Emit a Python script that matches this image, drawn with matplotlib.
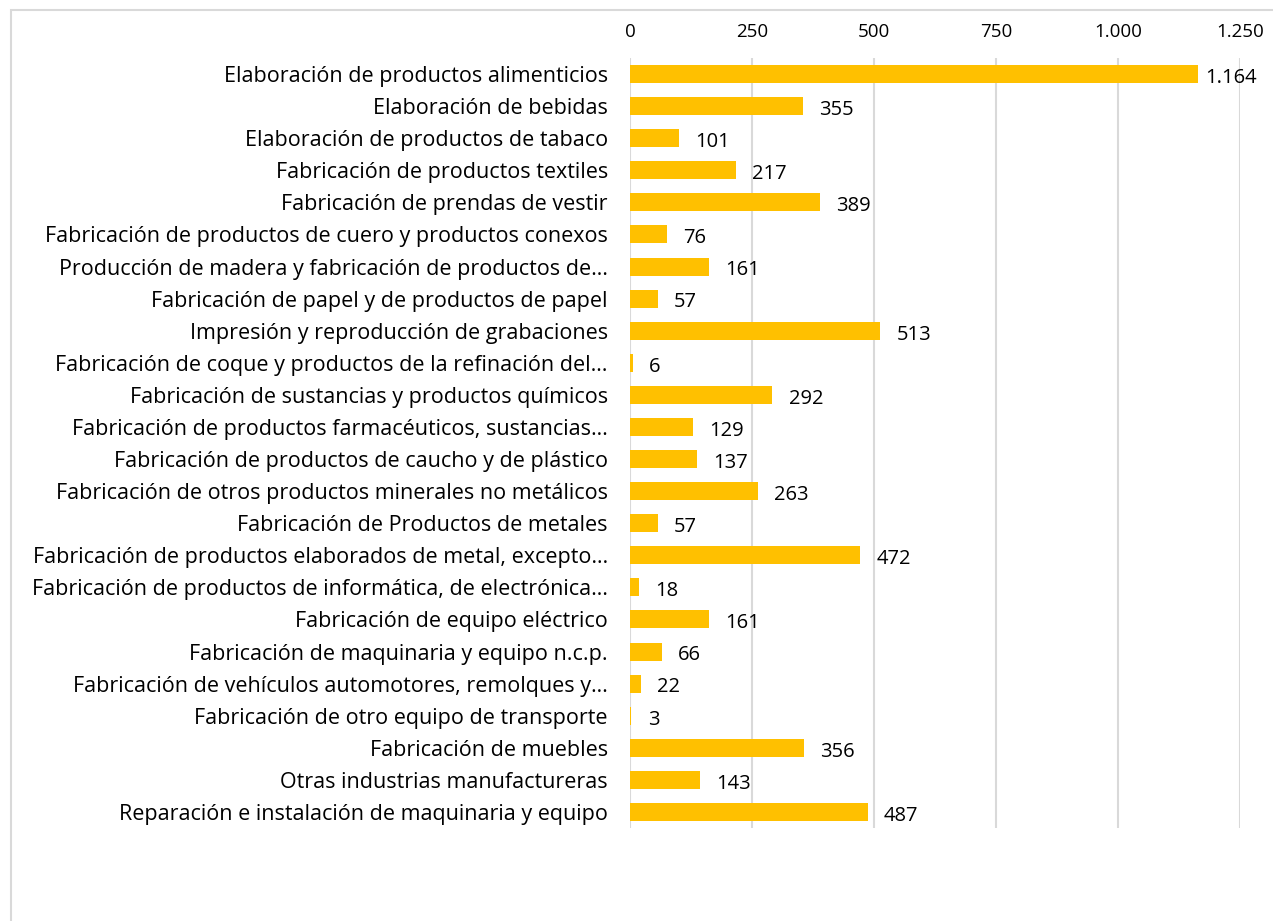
import matplotlib.pyplot as plt
from matplotlib.patches import Rectangle
from matplotlib.ticker import FuncFormatter

categorias = [
    "Elaboración de productos alimenticios",
    "Elaboración de bebidas",
    "Elaboración de productos de tabaco",
    "Fabricación de productos textiles",
    "Fabricación de prendas de vestir",
    "Fabricación de productos de cuero y productos conexos",
    "Producción de madera y fabricación de productos de…",
    "Fabricación de papel y de productos de papel",
    "Impresión y reproducción de grabaciones",
    "Fabricación de coque y productos de la refinación del…",
    "Fabricación de sustancias y productos químicos",
    "Fabricación de productos farmacéuticos, sustancias…",
    "Fabricación de productos de caucho y de plástico",
    "Fabricación de otros productos minerales no metálicos",
    "Fabricación de Productos de metales",
    "Fabricación de productos elaborados de metal, excepto…",
    "Fabricación de productos de informática, de electrónica…",
    "Fabricación de equipo eléctrico",
    "Fabricación de maquinaria y equipo n.c.p.",
    "Fabricación de vehículos automotores, remolques y…",
    "Fabricación de otro equipo de transporte",
    "Fabricación de muebles",
    "Otras industrias manufactureras",
    "Reparación e instalación de maquinaria y equipo",
]
valores = [1164, 355, 101, 217, 389, 76, 161, 57, 513, 6, 292, 129, 137,
           263, 57, 472, 18, 161, 66, 22, 3, 356, 143, 487]
ticks_x = [0, 250, 500, 750, 1000, 1250]


def miles(v, pos=None):
    return f"{int(v):,}".replace(",", ".")


plt.rcParams['font.family'] = ['Open Sans', 'DejaVu Sans']

fig = plt.figure(figsize=(12.73, 9.21), dpi=100)
# marco gris del grafico (se sale por la derecha y por abajo)
fig.patches.append(Rectangle((11 / 1273, -0.1), 1.2, 0.1 + 1 - 10 / 921,
                             transform=fig.transFigure, fill=False,
                             edgecolor='#D9D9D9', linewidth=1.5))
ax = fig.add_axes([630 / 1273, 1 - 828 / 921, 610 / 1273, 770 / 921])

y = list(range(len(categorias)))
ax.barh(y, valores, height=0.56, color='#FFC000', zorder=3)
for yi, v in zip(y, valores):
    # etiqueta fuera del extremo; la mas larga se ajusta al borde
    ax.text(min(v + 33, 1178), yi + 0.12, miles(v), va='center', ha='left',
            fontsize=14.5, color='#000000')

ax.set_xlim(0, 1250)
ax.set_ylim(len(categorias) - 0.5, -0.5)
ax.set_yticks(y)
ax.set_yticklabels(categorias, fontsize=15.5)
ax.set_xticks(ticks_x)
ax.xaxis.set_major_formatter(FuncFormatter(miles))
ax.xaxis.tick_top()
ax.tick_params(axis='x', length=0, pad=12, labelsize=13.5)
ax.tick_params(axis='y', length=0, pad=16)
ax.grid(axis='x', color='#D9D9D9', linewidth=1.5, zorder=0)
for s in ax.spines.values():
    s.set_visible(False)

fig.savefig('out.png', dpi=100)
